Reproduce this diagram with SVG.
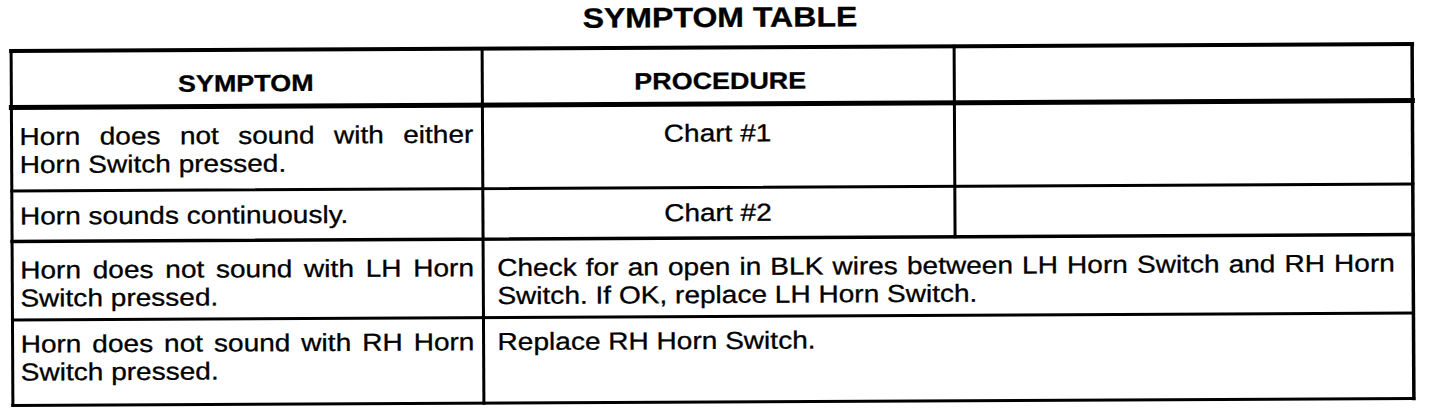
<svg xmlns="http://www.w3.org/2000/svg" width="1440" height="418" viewBox="0 0 1440 418">
<style>
  .t{font-family:"Liberation Sans",Arial,Helvetica,sans-serif;font-size:24.5px;fill:#000;stroke:#000;stroke-width:0.3}
  .b{font-weight:bold;font-size:23.5px}
  .ttl{font-weight:bold;font-size:28px}
  .c{text-anchor:middle}
  #grid line{stroke:#000;stroke-linecap:square}
</style>
<rect width="1440" height="418" fill="#fff"/>
<g transform="rotate(-0.29 712 225)">
  <g id="grid">
    <line x1="12" y1="47.5" x2="1413" y2="47.5" stroke-width="4"/>
    <line x1="12" y1="104" x2="1413" y2="104" stroke-width="5"/>
    <line x1="12" y1="187.5" x2="1413" y2="187.5" stroke-width="3"/>
    <line x1="12" y1="238" x2="1413" y2="238" stroke-width="3.5"/>
    <line x1="12" y1="316.5" x2="1413" y2="316.5" stroke-width="3"/>
    <line x1="12" y1="402" x2="1413" y2="402" stroke-width="3"/>
    <line x1="12" y1="47.5" x2="12" y2="402" stroke-width="3"/>
    <line x1="483" y1="47.5" x2="483" y2="402" stroke-width="3"/>
    <line x1="955" y1="47.5" x2="955" y2="238" stroke-width="3"/>
    <line x1="1413" y1="47.5" x2="1413" y2="402" stroke-width="3.5"/>
  </g>
  <g transform="scale(1.145 1)" class="t">
    <g id="title"><text class="ttl c" x="629.69" y="27">SYMPTOM TABLE</text></g>
    <g id="head-symptom"><text class="b c" x="215.28" y="89">SYMPTOM</text></g>
    <g id="head-procedure"><text class="b c" x="629.69" y="89">PROCEDURE</text></g>
    <g id="row1-symptom">
      <text x="17.47" y="141.5" word-spacing="10.1">Horn does not sound with either</text>
      <text x="17.47" y="169.5">Horn Switch pressed.</text>
    </g>
    <g id="row1-procedure"><text class="c" x="627.07" y="141.5">Chart #1</text></g>
    <g id="row2-symptom"><text x="17.47" y="221">Horn sounds continuously.</text></g>
    <g id="row2-procedure"><text class="c" x="627.07" y="221">Chart #2</text></g>
    <g id="row3-symptom">
      <text x="17.47" y="275" word-spacing="3.43">Horn does not sound with LH Horn</text>
      <text x="17.47" y="303">Switch pressed.</text>
    </g>
    <g id="row3-procedure">
      <text x="434.06" y="275" word-spacing="1.14">Check for an open in BLK wires between LH Horn Switch and RH Horn</text>
      <text x="434.06" y="303">Switch. If OK, replace LH Horn Switch.</text>
    </g>
    <g id="row4-symptom">
      <text x="17.47" y="349" word-spacing="2.75">Horn does not sound with RH Horn</text>
      <text x="17.47" y="377">Switch pressed.</text>
    </g>
    <g id="row4-procedure"><text x="434.06" y="349">Replace RH Horn Switch.</text></g>
  </g>
</g>
</svg>
